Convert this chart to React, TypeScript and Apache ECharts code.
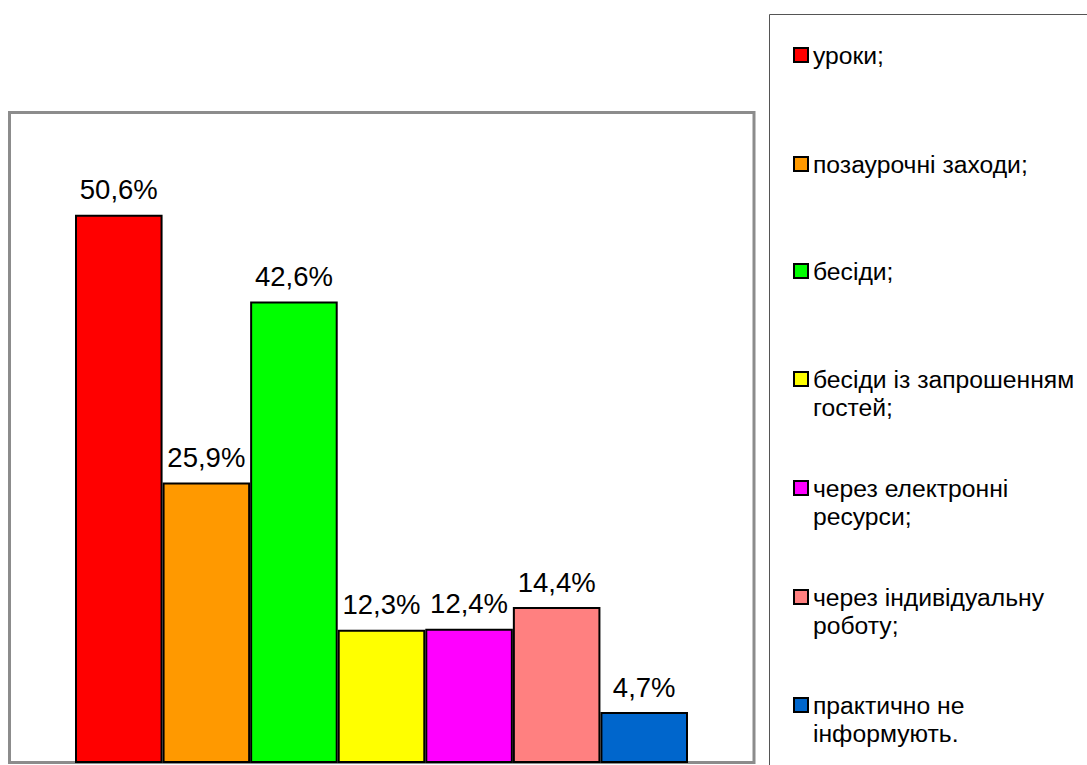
import React, { useEffect, useRef } from "react";
import * as echarts from "echarts";

const categories = [
  "уроки;",
  "позаурочні заходи;",
  "бесіди;",
  "бесіди із запрошенням\nгостей;",
  "через електронні\nресурси;",
  "через індивідуальну\nроботу;",
  "практично не\nінформують.",
];
const values = [50.6, 25.9, 42.6, 12.3, 12.4, 14.4, 4.7];
const colors = ["#FF0000", "#FF9900", "#00FF00", "#FFFF00", "#FF00FF", "#FF8080", "#0066CC"];
// icon centre y of each legend entry (layout)
const legendIconY = [55, 164, 271, 379, 488, 597, 705];

const FONT = "'Liberation Sans', Arial, sans-serif";
const LH = 28.5;

export default function App() {
  const ref = useRef<HTMLDivElement>(null);
  useEffect(() => {
    if (!ref.current) return;
    const chart = echarts.init(ref.current, null, { renderer: "svg" });
    const series = categories.map((name, i) => ({
      type: "bar",
      name,
      data: values.map((v, j) => (j === i ? v : null)),
      barGap: "-100%",
      barCategoryGap: "0%",
      itemStyle: { color: colors[i], borderColor: "#000", borderWidth: 2 },
      label: {
        show: true,
        position: "top",
        distance: 11,
        fontSize: 27.5,
        fontFamily: FONT,
        color: "#000",
        formatter: (p: any) => `${Number(p.value).toFixed(1).replace(".", ",")}%`,
      },
    }));
    const legends = categories.map((name, i) => {
      const twoLine = name.includes("\n");
      // two-line entries get an empty leading line so the icon sits on the first visible line
      const half = twoLine ? (3 * LH) / 2 : LH / 2;
      return {
        orient: "vertical",
        left: 788,
        top: legendIconY[i] - 5 - half,
        itemWidth: 14,
        itemHeight: 14,
        icon: "rect",
        selectedMode: false,
        data: [name],
        formatter: (n: string) => (n.includes("\n") ? "\n" + n : n),
        textStyle: { fontSize: 24.7, lineHeight: LH, fontFamily: FONT, color: "#000" },
      };
    });
    chart.setOption({
      animation: false,
      backgroundColor: "#fff",
      grid: { left: 75, width: 613, top: 113, height: 650 },
      xAxis: {
        type: "category",
        data: categories,
        show: false,
      },
      yAxis: { type: "value", min: 0, max: 60, show: false },
      legend: legends,
      graphic: [
        {
          type: "rect",
          z: -10,
          shape: { x: 9.5, y: 112.5, width: 744.5, height: 650 },
          style: { fill: "#fff", stroke: "#8c8c8c", lineWidth: 3 },
        },
        {
          type: "rect",
          z: -10,
          shape: { x: 769.5, y: 14.5, width: 400, height: 800 },
          style: { fill: "#fff", stroke: "#555", lineWidth: 1 },
        },
      ],
      series,
    });
    return () => chart.dispose();
  }, []);
  return (
    <div
      ref={ref}
      style={{ position: "fixed", left: 0, top: 0, width: 1087, height: 765 }}
    />
  );
}
